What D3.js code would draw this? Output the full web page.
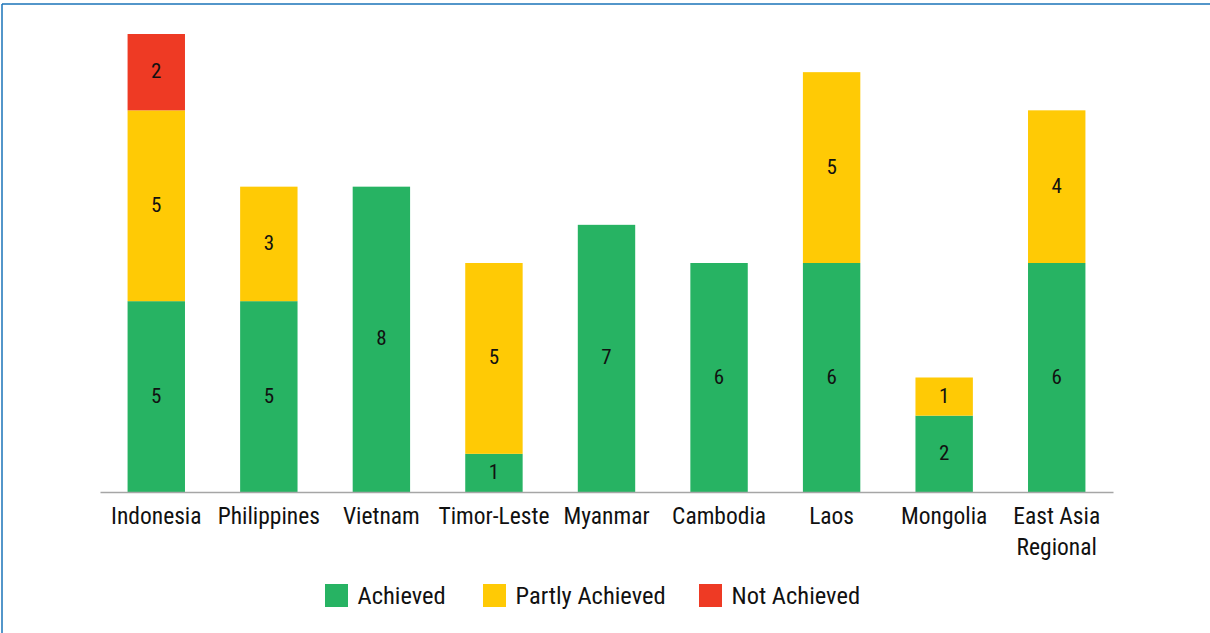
<!DOCTYPE html>
<html>
<head>
<meta charset="utf-8">
<script src="https://cdn.jsdelivr.net/npm/d3@7"></script>
<style>
  body { margin: 0; background: #fff; overflow: hidden; }
  svg { display: block; }
  text { font-family: "Liberation Sans Narrow", "Arial Narrow", "Roboto Condensed", sans-serif; }
</style>
</head>
<body>
<div id="chart"></div>
<script>
// データ
const categories = ['Indonesia', 'Philippines', 'Vietnam', 'Timor-Leste', 'Myanmar', 'Cambodia', 'Laos', 'Mongolia', 'East Asia Regional'];
const tickLines = [['Indonesia'], ['Philippines'], ['Vietnam'], ['Timor-Leste'], ['Myanmar'], ['Cambodia'], ['Laos'], ['Mongolia'], ['East Asia', 'Regional']];
const achieved = [5, 5, 8, 1, 7, 6, 6, 2, 6];
const partly = [5, 3, 0, 5, 0, 0, 5, 1, 4];
const notAchieved = [2, 0, 0, 0, 0, 0, 0, 0, 0];
const seriesNames = ['Achieved', 'Partly Achieved', 'Not Achieved'];
const seriesColors = ['#27b363', '#ffca05', '#ee3a24'];

// サイズ
const width = 1210;
const height = 633;
const margin = {top: 34, left: 100, right: 97, bottom: 141};
const innerWidth = width - margin.left - margin.right;
const innerHeight = height - margin.top - margin.bottom;

const svg = d3.select('#chart')
  .append('svg')
  .attr('width', width)
  .attr('height', height);

// 枠線（上と左だけ見えている）
svg.append('line')
  .attr('x1', 2).attr('y1', 4).attr('x2', width).attr('y2', 4)
  .attr('stroke', '#1a73b8').attr('stroke-width', 1.5);
svg.append('line')
  .attr('x1', 2).attr('y1', 4).attr('x2', 2).attr('y2', height)
  .attr('stroke', '#1a73b8').attr('stroke-width', 1.5);

const g = svg.append('g')
  .attr('transform', 'translate(' + margin.left + ',' + margin.top + ')');

const rows = categories.map((c, i) => ({
  cat: c,
  'Achieved': achieved[i],
  'Partly Achieved': partly[i],
  'Not Achieved': notAchieved[i]
}));

const stacked = d3.stack().keys(seriesNames)(rows);

const x = d3.scaleBand()
  .domain(categories)
  .range([0, innerWidth])
  .paddingInner(0.49)
  .paddingOuter(0.245);

const y = d3.scaleLinear()
  .domain([0, 12])
  .range([innerHeight, 0]);

const color = d3.scaleOrdinal().domain(seriesNames).range(seriesColors);

// 棒
stacked.forEach(layer => {
  const segs = layer.filter(d => d[1] - d[0] > 0);
  g.append('g').selectAll('rect')
    .data(segs)
    .enter()
    .append('rect')
    .attr('fill', color(layer.key))
    .attr('x', d => x(d.data.cat))
    .attr('width', x.bandwidth())
    .attr('y', d => y(d[1]))
    .attr('height', d => y(d[0]) - y(d[1]));
});

// 値ラベル
stacked.forEach(layer => {
  const segs = layer.filter(d => d[1] - d[0] > 0);
  g.append('g').selectAll('text')
    .data(segs)
    .enter()
    .append('text')
    .attr('x', d => x(d.data.cat) + x.bandwidth() / 2)
    .attr('y', d => (y(d[0]) + y(d[1])) / 2 + 6)
    .attr('text-anchor', 'middle')
    .attr('fill', '#111')
    .style('font-size', '21px')
    .text(d => d[1] - d[0]);
});

// 横軸
const xAxis = g.append('g')
  .attr('transform', 'translate(0,' + innerHeight + ')')
  .call(d3.axisBottom(x).tickSize(0).tickSizeOuter(0).tickFormat(''));
xAxis.attr('font-family', null);
xAxis.select('.domain').attr('stroke', '#a6a6a6').attr('stroke-width', 1.5);
xAxis.selectAll('.tick text').remove();

categories.forEach((c, i) => {
  tickLines[i].forEach((line, j) => {
    g.append('text')
      .attr('x', x(c) + x.bandwidth() / 2)
      .attr('y', innerHeight + 32 + j * 31)
      .attr('fill', '#111')
      .attr('text-anchor', 'middle')
      .style('font-size', '23.5px')
      .text(line);
  });
});

// 凡例
const legendX = [325, 483, 699];
seriesNames.forEach((name, i) => {
  svg.append('rect')
    .attr('x', legendX[i]).attr('y', 584)
    .attr('width', 23).attr('height', 23)
    .attr('fill', color(name));
  svg.append('text')
    .attr('x', legendX[i] + 32.5).attr('y', 604)
    .attr('fill', '#111')
    .style('font-size', '24.5px')
    .text(name);
});
</script>
</body>
</html>
